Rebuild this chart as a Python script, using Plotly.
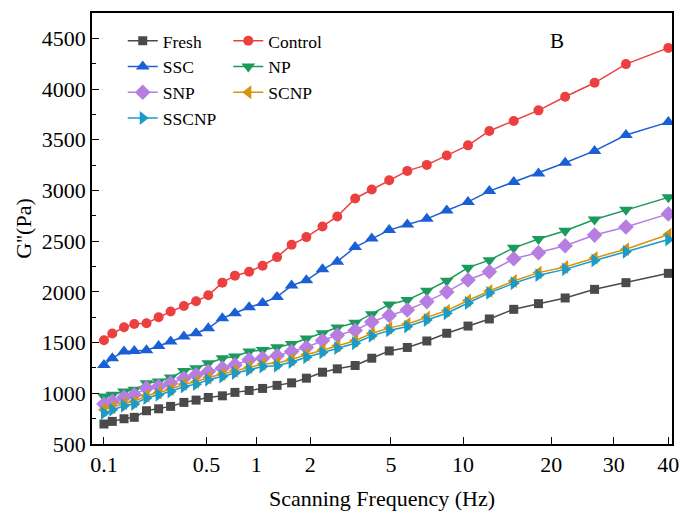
import numpy as np
import plotly.graph_objects as go

# ---------------- data ----------------
freq = [0.1, 0.114, 0.137, 0.161, 0.195, 0.236, 0.285, 0.351, 0.425, 0.513, 0.624,
        0.743, 0.905, 1.084, 1.306, 1.575, 1.905, 2.30, 2.72, 3.33, 4.02, 4.90,
        5.85, 7.06, 8.55, 10.4, 12.3, 14.9, 18.1, 21.9, 26.5, 32.0, 40.0]

fresh = [697, 723, 749, 763, 828, 847, 871, 910, 933, 959, 975, 1009, 1028, 1048, 1078,
         1103, 1149, 1208, 1241, 1274, 1346, 1418, 1452, 1516, 1592, 1663, 1733, 1828,
         1884, 1940, 2025, 2091, 2183]
control = [1523, 1589, 1651, 1684, 1691, 1750, 1806, 1861, 1907, 1966, 2091, 2160, 2199,
           2258, 2343, 2465, 2540, 2645, 2744, 2921, 3009, 3101, 3193, 3252, 3344, 3445,
           3587, 3685, 3790, 3924, 4062, 4246, 4406]
ssc = [1280, 1346, 1412, 1418, 1425, 1467, 1511, 1560, 1592, 1641, 1740, 1790, 1848, 1890,
       1950, 2062, 2114, 2222, 2298, 2442, 2527, 2609, 2665, 2720, 2803, 2887, 2994, 3083,
       3168, 3273, 3390, 3547, 3674]
np_ = [969, 985, 1018, 1034, 1100, 1117, 1156, 1221, 1248, 1297, 1346, 1363, 1412, 1428,
       1453, 1486, 1540, 1592, 1648, 1695, 1780, 1876, 1920, 2010, 2110, 2239, 2313, 2434,
       2522, 2603, 2714, 2810, 2932]
snp = [894, 920, 960, 985, 1051, 1067, 1100, 1149, 1182, 1215, 1248, 1280, 1330, 1346,
       1370, 1412, 1452, 1521, 1572, 1620, 1703, 1768, 1822, 1904, 2000, 2117, 2199, 2326,
       2386, 2455, 2560, 2640, 2769]
scnp = [838, 862, 900, 918, 975, 1008, 1040, 1090, 1113, 1156, 1190, 1222, 1255, 1288,
        1298, 1333, 1380, 1428, 1470, 1518, 1590, 1645, 1683, 1748, 1815, 1915, 2009, 2107,
        2190, 2245, 2335, 2420, 2565]
sscnp = [805, 838, 877, 894, 953, 985, 1018, 1067, 1090, 1133, 1166, 1199, 1231, 1264,
         1272, 1308, 1355, 1403, 1445, 1493, 1566, 1620, 1658, 1723, 1789, 1890, 1990, 2085,
         2165, 2222, 2310, 2395, 2517]

tick_values = [0.1, 0.5, 1, 2, 5, 10, 20, 30, 40]
tick_labels = ["0.1", "0.5", "1", "2", "5", "10", "20", "30", "40"]

# ---------------- warped frequency axis (as in the original figure) ----------------
AXIS_ANCHORS = [104.1, 207.8, 258.3, 312.8, 394.6, 467.5, 556.7, 620.0, 675.3]
AXIS_RANGE = [92, 679]


def xscale(f):
    return np.interp(np.log10(np.asarray(f, dtype=float)), np.log10(tick_values), AXIS_ANCHORS)


FONT = "Liberation Serif, Times New Roman, serif"

series = [
    ("Fresh", fresh, "#4a4a4a", "square", 9, "legend"),
    ("Control", control, "#ec4040", "circle", 10, "legend2"),
    ("SSC", ssc, "#1a5fd6", "triangle-up", 12, "legend"),
    ("NP", np_, "#1b9a5c", "triangle-down", 12, "legend2"),
    ("SNP", snp, "#b57ee0", "diamond", 12, "legend"),
    ("SCNP", scnp, "#d4950c", "triangle-left", 12, "legend2"),
    ("SSCNP", sscnp, "#1a9bc8", "triangle-right", 12, "legend"),
]

fig = go.Figure()
xs = xscale(freq)
for name, vals, color, sym, size, lg in series:
    fig.add_trace(go.Scatter(
        x=xs, y=vals, name=name, mode="lines+markers",
        line=dict(color=color, width=1.5),
        marker=dict(symbol=sym, size=size, color=color, line=dict(width=0)),
        legend=lg,
    ))

legend_common = dict(
    xanchor="left", yanchor="top", bgcolor="rgba(0,0,0,0)",
    font=dict(family=FONT, size=17.5, color="black"),
    tracegroupgap=0, itemwidth=30,
)

fig.update_layout(
    width=689, height=517,
    margin=dict(l=92, r=10, t=13, b=71),
    paper_bgcolor="white", plot_bgcolor="white",
    font=dict(family=FONT, size=22, color="black"),
    legend=dict(x=0.053, y=0.977, **legend_common),
    legend2=dict(x=0.235, y=0.977, **legend_common),
    xaxis=dict(
        range=AXIS_RANGE, tickmode="array", tickvals=xscale(tick_values).tolist(),
        ticktext=tick_labels, ticks="inside", ticklen=7, tickwidth=1.2, tickcolor="black",
        showline=True, linecolor="black", linewidth=1.5, mirror=True, showgrid=False,
        zeroline=False, tickfont=dict(family=FONT, size=22),
        title=dict(text="Scanning Frequency (Hz)", font=dict(family=FONT, size=22), standoff=14),
    ),
    yaxis=dict(
        range=[500, 4750], tickmode="linear", tick0=500, dtick=500,
        ticks="inside", ticklen=7, tickwidth=1.2, tickcolor="black",
        minor=dict(ticks="inside", ticklen=4, dtick=250, tickcolor="black", tickwidth=1.2),
        showline=True, linecolor="black", linewidth=1.5, mirror=True, showgrid=False,
        zeroline=False, tickfont=dict(family=FONT, size=22),
        title=dict(text="G''(Pa)", font=dict(family=FONT, size=22), standoff=4),
    ),
    annotations=[dict(text="B", x=563, y=4475, xref="x", yref="y", showarrow=False,
                      font=dict(family=FONT, size=21, color="black"))],
)

# remove the page's default 8px body margin so the 689x517 figure fills the window
fig.write_html("out.html", config={"displayModeBar": False},
               post_script="document.body.style.margin='0px';")
